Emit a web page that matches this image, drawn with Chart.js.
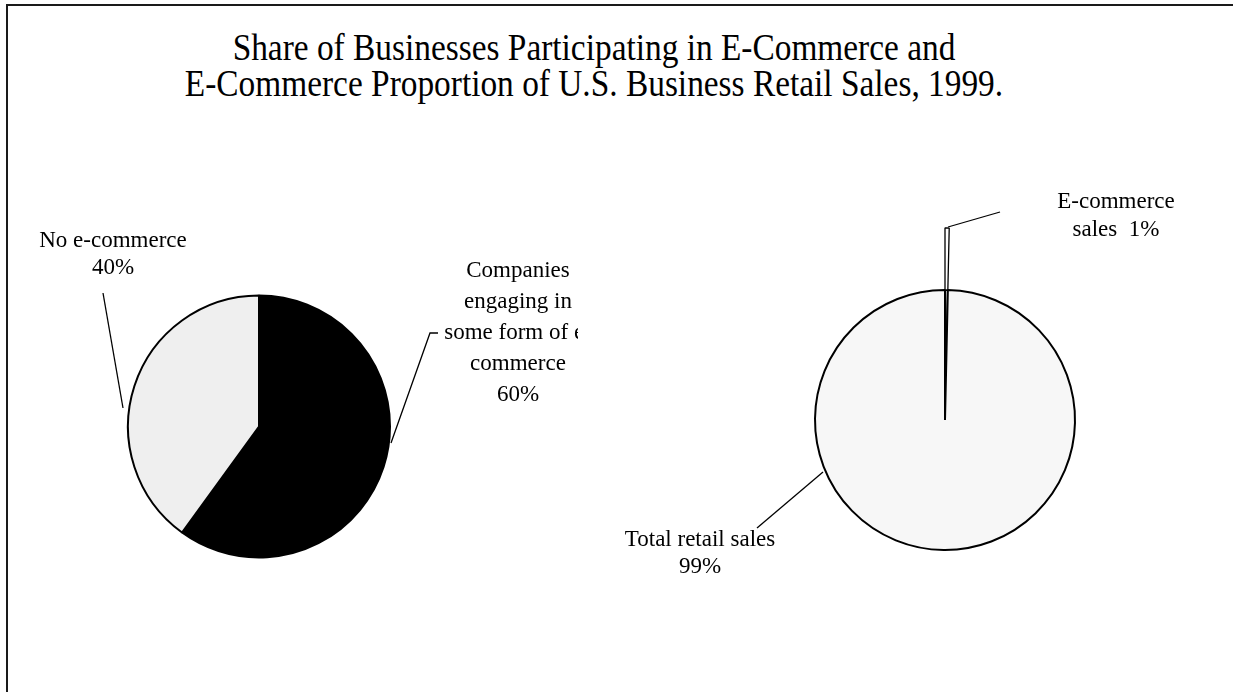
<!DOCTYPE html>
<html>
<head>
<meta charset="utf-8">
<script src="https://cdn.jsdelivr.net/npm/chart.js@4.4.0/dist/chart.umd.min.js"></script>
<style>
  html, body { margin: 0; padding: 0; background: #fff; }
  body { width: 1233px; height: 692px; position: relative; overflow: hidden; }
  #frame { position: absolute; left: 6px; top: 4px; right: -4px; bottom: -4px;
           border-left: 2px solid #1a1a1a; border-top: 2px solid #1a1a1a; }
  #title { position: absolute; left: 0; top: 29px; width: 1188px; text-align: center;
           font-family: "Liberation Serif", serif; font-size: 38px; line-height: 36px;
           color: #000; transform: scaleX(0.878); transform-origin: 594px 0; }
  canvas { position: absolute; }
  #left-pie { left: 8px; top: 150px; }
  #right-pie { left: 600px; top: 150px; }
</style>
</head>
<body>
<div id="frame"></div>
<div id="title">Share of Businesses Participating in E-Commerce and<br>E-Commerce Proportion of U.S. Business Retail Sales, 1999.</div>
<canvas id="left-pie" width="570" height="500"></canvas>
<canvas id="right-pie" width="633" height="542"></canvas>
<script>
// left pie - share of businesses
const businessCategories = ['Companies engaging in some form of e-commerce', 'No e-commerce'];
const businessShares = [60, 40];
const businessColors = ['#000000', '#efefef'];

// right pie - retail sales (e-commerce wedge is drawn very thin in the original)
const salesCategories = ['E-commerce sales', 'Total retail sales'];
const salesShares = [0.35, 99.65];
const salesLabels = ['1%', '99%'];
const salesColors = ['#ffffff', '#f7f7f7'];

const labelFont = '23px "Liberation Serif", serif';

// draws the callout texts + leader lines
const calloutPlugin = {
    id: 'callouts',
    afterDraw(chart, args, opts) {
        const ctx = chart.ctx;
        ctx.save();
        ctx.font = labelFont;
        ctx.fillStyle = '#000';
        ctx.textAlign = 'center';
        ctx.textBaseline = 'middle';
        opts.items.forEach(item => {
            item.lines.forEach((line, i) => {
                ctx.fillText(line, item.x, item.y + i * item.lineHeight);
            });
            ctx.beginPath();
            ctx.lineWidth = 1.3;
            ctx.strokeStyle = '#000';
            item.leader.forEach((p, i) => {
                if (i === 0) ctx.moveTo(p[0], p[1]);
                else ctx.lineTo(p[0], p[1]);
            });
            ctx.stroke();
        });
        ctx.restore();
    }
};

const baseOptions = {
    responsive: false,
    animation: false,
    events: [],
    plugins: {
        legend: { display: false },
        tooltip: { enabled: false }
    }
};

let leftElement = document.getElementById('left-pie').getContext('2d');
let leftChart = new Chart(leftElement, {
    type: 'pie',
    data: {
        labels: businessCategories,
        datasets: [{
            data: businessShares,
            backgroundColor: businessColors,
            borderColor: '#000',
            borderWidth: 2
        }]
    },
    options: {
        ...baseOptions,
        radius: 131,
        layout: { padding: { left: 101, right: 169, top: 126.5, bottom: 73.5 } },
        plugins: {
            ...baseOptions.plugins,
            callouts: {
                items: [
                    { lines: ['No e-commerce', businessShares[1] + '%'], x: 105, y: 91, lineHeight: 27,
                      leader: [[95, 143], [115, 258]] },
                    { lines: ['Companies', 'engaging in', 'some form of e-', 'commerce', businessShares[0] + '%'],
                      x: 510, y: 121, lineHeight: 31,
                      leader: [[383, 293], [422, 183], [430, 183]] }
                ]
            }
        }
    },
    plugins: [calloutPlugin]
});

let rightElement = document.getElementById('right-pie').getContext('2d');
let rightChart = new Chart(rightElement, {
    type: 'pie',
    data: {
        labels: salesCategories,
        datasets: [
            { // outer ring: only the pulled-up e-commerce wedge is visible
                data: salesShares,
                backgroundColor: [salesColors[0], 'rgba(0,0,0,0)'],
                borderColor: ['#000', 'rgba(0,0,0,0)'],
                borderWidth: [1.3, 0],
                weight: 62
            },
            {
                data: salesShares,
                backgroundColor: salesColors,
                borderColor: '#000',
                borderWidth: 2,
                weight: 130
            }
        ]
    },
    options: {
        ...baseOptions,
        radius: 192,
        layout: { padding: { left: 145, right: 88, top: 70, bottom: 72 } },
        plugins: {
            ...baseOptions.plugins,
            callouts: {
                items: [
                    { lines: ['E-commerce', 'sales  ' + salesLabels[0]], x: 516, y: 52, lineHeight: 28,
                      leader: [[348, 77], [400, 62]] },
                    { lines: ['Total retail sales', salesLabels[1]], x: 100, y: 390, lineHeight: 27,
                      leader: [[223, 322], [157, 378]] }
                ]
            }
        }
    },
    plugins: [calloutPlugin]
});
</script>
</body>
</html>
